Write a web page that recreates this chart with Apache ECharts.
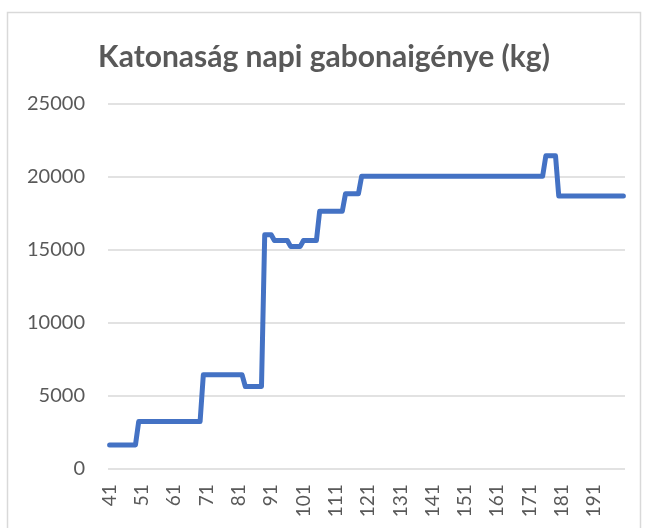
<!DOCTYPE html>
<html>
<head>
<meta charset="utf-8">
<style>
  html, body { margin: 0; padding: 0; background: #fff; }
  #chart { width: 648px; height: 528px; }
</style>
<script src="https://cdn.jsdelivr.net/npm/echarts@6/dist/echarts.min.js"></script>
</head>
<body>
<div id="chart"></div>
<script>
// napok (41..200)
const days = [];
for (let d = 41; d <= 200; d++) days.push(String(d));

// napi gabonaigény (kg), 10 nap / sor
const grain = [
  1600, 1600, 1600, 1600, 1600, 1600, 1600, 1600, 1600, 3200,   // 41-50
  3200, 3200, 3200, 3200, 3200, 3200, 3200, 3200, 3200, 3200,   // 51-60
  3200, 3200, 3200, 3200, 3200, 3200, 3200, 3200, 3200, 6400,   // 61-70
  6400, 6400, 6400, 6400, 6400, 6400, 6400, 6400, 6400, 6400,   // 71-80
  6400, 6400, 5600, 5600, 5600, 5600, 5600, 5600, 16000, 16000, // 81-90
  16000, 15600, 15600, 15600, 15600, 15600, 15200, 15200, 15200, 15200, // 91-100
  15600, 15600, 15600, 15600, 15600, 17600, 17600, 17600, 17600, 17600, // 101-110
  17600, 17600, 17600, 18800, 18800, 18800, 18800, 18800, 20000, 20000, // 111-120
  20000, 20000, 20000, 20000, 20000, 20000, 20000, 20000, 20000, 20000, // 121-130
  20000, 20000, 20000, 20000, 20000, 20000, 20000, 20000, 20000, 20000, // 131-140
  20000, 20000, 20000, 20000, 20000, 20000, 20000, 20000, 20000, 20000, // 141-150
  20000, 20000, 20000, 20000, 20000, 20000, 20000, 20000, 20000, 20000, // 151-160
  20000, 20000, 20000, 20000, 20000, 20000, 20000, 20000, 20000, 20000, // 161-170
  20000, 20000, 20000, 20000, 20000, 21400, 21400, 21400, 21400, 18650, // 171-180
  18650, 18650, 18650, 18650, 18650, 18650, 18650, 18650, 18650, 18650, // 181-190
  18650, 18650, 18650, 18650, 18650, 18650, 18650, 18650, 18650, 18650  // 191-200
];

const yTicks = [0, 5000, 10000, 15000, 20000, 25000];

const chart = echarts.init(document.getElementById('chart'));
const textColor = '#595959';
const font = 'Lato, "Open Sans", sans-serif';

const option = {
  animation: false,
  title: {
    text: 'Katonaság napi gabonaigénye (kg)',
    left: 'center',
    top: 37,
    textStyle: {
      fontFamily: font,
      fontSize: 30,
      fontWeight: 'bold',
      color: textColor
    }
  },
  // keret a diagram körül
  graphic: [{
    type: 'rect',
    shape: { x: 7.5, y: 12.5, width: 633, height: 540 },
    style: { fill: 'none', stroke: '#d9d9d9', lineWidth: 1.5 },
    silent: true
  }],
  grid: {
    left: 108,
    right: 23,
    top: 103.3,
    bottom: 59.7,
    containLabel: false
  },
  xAxis: {
    type: 'category',
    data: days,
    boundaryGap: true,
    axisLine: { show: false },
    axisTick: { show: false },
    axisLabel: {
      interval: 9,
      rotate: 90,
      margin: 16,
      fontFamily: font,
      fontSize: 19,
      color: textColor
    }
  },
  yAxis: {
    type: 'value',
    min: yTicks[0],
    max: yTicks[yTicks.length - 1],
    interval: 5000,
    axisLine: { show: false },
    axisTick: { show: false },
    axisLabel: {
      margin: 23,
      fontFamily: font,
      fontSize: 20,
      color: textColor,
      formatter: v => String(v)
    },
    splitLine: {
      lineStyle: { color: '#d9d9d9', width: 1.5 }
    }
  },
  series: [{
    type: 'line',
    data: grain,
    showSymbol: false,
    lineStyle: {
      color: '#4472C4',
      width: 5,
      cap: 'round',
      join: 'round'
    }
  }]
};

chart.setOption(option);
</script>
</body>
</html>
